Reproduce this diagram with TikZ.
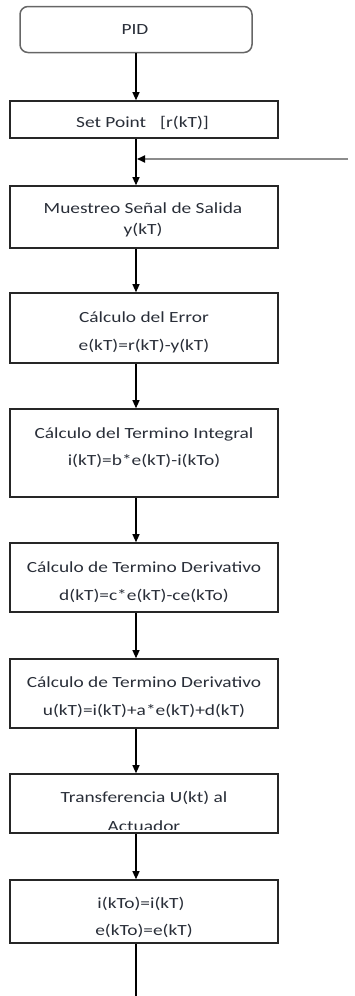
\documentclass[tikz,border=0pt]{standalone}
\usepackage{fontspec}
\setmainfont{Carlito}[FakeStretch=1.25]
\usetikzlibrary{arrows.meta}
\definecolor{txt}{rgb}{0.16,0.18,0.22}
\begin{document}
\begin{tikzpicture}[x=1pt,y=-1pt,
  box/.style={draw=black!85,line width=1.6pt,minimum width=268pt,inner sep=0pt},
  startbox/.style={draw=black!60,line width=1.5pt,rounded corners=8pt,
    minimum width=232pt,minimum height=46pt,inner sep=0pt},
  lbl/.style={anchor=base,inner sep=0pt,text=txt,font=\fontsize{15.5}{18}\selectfont},
  flow/.style={draw=black,line width=1.2pt,-{Triangle[length=8pt,width=7pt]}},
  fback/.style={draw=black!45,line width=1.7pt,-{Triangle[length=8pt,width=7pt,black]}},
  tail/.style={draw=black,line width=1.2pt}]
\useasboundingbox (0,0) rectangle (354,996);

% process blocks
\node[startbox] (pid) at (136,29.5) {};
\node[box,minimum height=37pt] (set) at (144,119.5) {};
\node[box,minimum height=62pt] (mue) at (144,217) {};
\node[box,minimum height=70pt] (err) at (144,328) {};
\node[box,minimum height=88pt] (int) at (144,453) {};
\node[box,minimum height=69pt] (der) at (144,577.5) {};
\node[box,minimum height=69pt] (ctl) at (144,693.5) {};
\node[box,minimum height=59pt] (tra) at (144,803.5) {};
\node[box,minimum height=63pt] (fin) at (144,911.5) {};

% block texts
\node[lbl] (tpid) at (135,34) {PID};
\node[lbl] (tset) at (142.5,127) {Set Point\hspace{14pt}[r(kT)]};
\node[lbl] (tmue1) at (143,213) {Muestreo Señal de Salida};
\node[lbl] (tmue2) at (143,234) {y(kT)};
\node[lbl] (terr1) at (144,322) {Cálculo del Error};
\node[lbl] (terr2) at (144,350) {e(kT)=r(kT)-y(kT)};
\node[lbl] (tint1) at (144,438) {Cálculo del Termino Integral};
\node[lbl] (tint2) at (144,465) {i(kT)=b*e(kT)-i(kTo)};
\node[lbl] (tder1) at (144,572) {Cálculo de Termino Derivativo};
\node[lbl] (tder2) at (144,600) {d(kT)=c*e(kT)-ce(kTo)};
\node[lbl] (tctl1) at (144,687) {Cálculo de Termino Derivativo};
\node[lbl] (tctl2) at (144,715) {u(kT)=i(kT)+a*e(kT)+d(kT)};
\begin{scope}
  % the second line overflows the block and is cut off at its lower edge
  \clip (10,774) rectangle (278,829);
  \node[lbl] (ttra1) at (144,802) {Transferencia U(kt) al};
  \node[lbl] (ttra2) at (144,831) {Actuador};
\end{scope}
\node[lbl] (tfin1) at (141,908) {i(kTo)=i(kT)};
\node[lbl] (tfin2) at (144,935) {e(kTo)=e(kT)};

% connectors
\coordinate (fb) at (348,159);
\coordinate (loop) at (136,996);
\draw[flow] (pid.south) -- (pid.south |- set.north);
\draw[flow] (pid.south |- set.south) -- (pid.south |- mue.north);
\draw[fback] (fb) -- ([xshift=1pt]fb -| pid.south);
\draw[flow] (pid.south |- mue.south) -- (pid.south |- err.north);
\draw[flow] (pid.south |- err.south) -- (pid.south |- int.north);
\draw[flow] (pid.south |- int.south) -- (pid.south |- der.north);
\draw[flow] (pid.south |- der.south) -- (pid.south |- ctl.north);
\draw[flow] (pid.south |- ctl.south) -- (pid.south |- tra.north);
\draw[flow] (pid.south |- tra.south) -- (pid.south |- fin.north);
\draw[tail] (pid.south |- fin.south) -- (loop);
\end{tikzpicture}
\end{document}
